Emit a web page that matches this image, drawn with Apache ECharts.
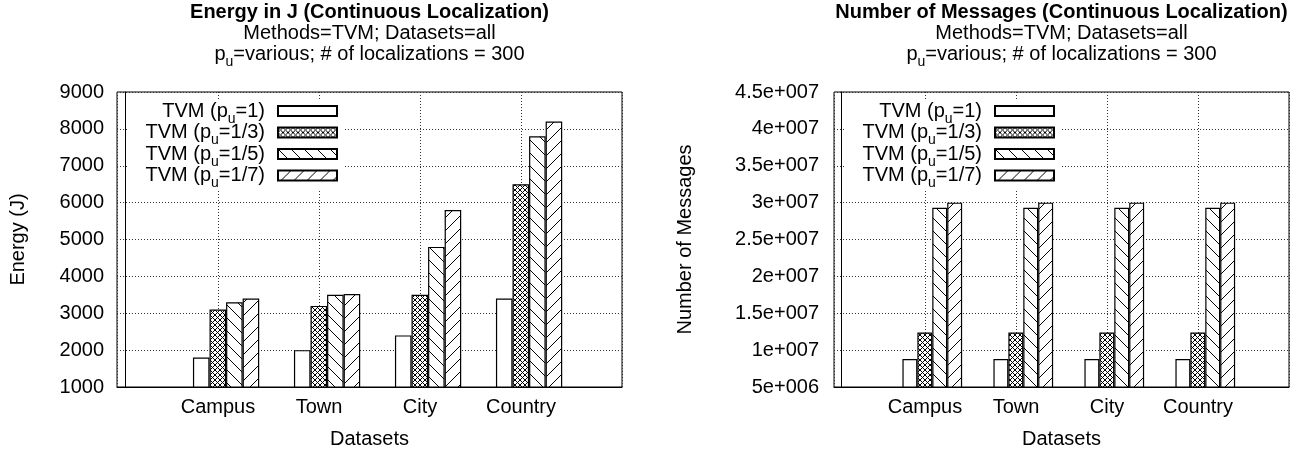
<!DOCTYPE html>
<html><head><meta charset="utf-8">
<script src="https://cdn.jsdelivr.net/npm/echarts@6/dist/echarts.min.js"></script>
<style>html,body{margin:0;padding:0;background:#fff}#c{width:1307px;height:454px}</style>
</head><body><div id="c"></div>
<script>
// ---- data ----
const categories = ['Campus', 'Town', 'City', 'Country'];
const puLabels = ['1', '1/3', '1/5', '1/7'];
const energyPu1 = [1800, 2000, 2400, 3400];
const energyPu3 = [3100, 3200, 3500, 6500];
const energyPu5 = [3300, 3500, 4800, 7800];
const energyPu7 = [3400, 3520, 5800, 8200];
const msgPu1 = [8.8e6, 8.8e6, 8.8e6, 8.8e6];
const msgPu3 = [1.24e7, 1.24e7, 1.24e7, 1.24e7];
const msgPu5 = [2.93e7, 2.93e7, 2.93e7, 2.93e7];
const msgPu7 = [3.0e7, 3.0e7, 3.0e7, 3.0e7];

// ---- style ----
const FONT = 'Liberation Sans, Arial, sans-serif';
const BAR_SHIFT = 0.08;
const names = puLabels.map(p => 'TVM (pu=' + p + ')');

function makePattern(kind) {
  if (kind === 'white') return '#ffffff';
  const N = kind === 'cross' ? 5 : 13;
  const c = document.createElement('canvas');
  c.width = N; c.height = N;
  const g = c.getContext('2d');
  g.fillStyle = '#fff'; g.fillRect(0, 0, N, N);
  g.strokeStyle = '#000'; g.lineWidth = 1;
  g.beginPath();
  for (const k of [-1, 0, 1]) {
    if (kind === 'back' || kind === 'cross') { g.moveTo(k * N - 1, -1); g.lineTo(k * N + N + 1, N + 1); }
    if (kind === 'fwd' || kind === 'cross') { g.moveTo(k * N - 1, N + 1); g.lineTo(k * N + N + 1, -1); }
  }
  g.stroke();
  return { image: c, repeat: 'repeat' };
}
const patterns = [makePattern('white'), makePattern('cross'), makePattern('back'), makePattern('fwd')];

function gnuFmt(v) {
  const e = Math.floor(Math.log10(v) + 1e-9);
  const m = Math.round(v / Math.pow(10, e) * 100) / 100;
  return m + 'e+' + String(e).padStart(3, '0');
}

function richSub(lh) {
  return {
    t: { fontFamily: FONT, fontSize: 20, color: '#000', lineHeight: lh, verticalAlign: 'middle' },
    s: { fontFamily: FONT, fontSize: 14, color: '#000', lineHeight: 4, verticalAlign: 'top', padding: [11, 0, 0, 0] },
    g: { width: 8 }
  };
}

function legendFor(right) {
  return {
    data: names, orient: 'vertical', align: 'right', right: right, top: 99,
    itemWidth: 59, itemHeight: 10, itemGap: -3.5, padding: [2, 7, 0, 18],
    backgroundColor: '#fff', icon: 'rect', selectedMode: false,
    textStyle: { fontFamily: FONT, fontSize: 20, color: '#000', lineHeight: 20, rich: richSub(20) },
    formatter: n => '{t|TVM (p}{s|u}{t|=' + n.split('=')[1] + '}{g|}'
  };
}

function titleFor(text, cx) {
  return {
    text: text,
    subtext: 'Methods=TVM; Datasets=all\n{t|p}{s|u}{t|=various; # of localizations = 300}',
    left: cx, top: 2, textAlign: 'center', itemGap: 0, padding: 0,
    textStyle: { fontFamily: FONT, fontSize: 20, fontWeight: 'bold', color: '#000', lineHeight: 21 },
    subtextStyle: { fontFamily: FONT, fontSize: 20, color: '#000', lineHeight: 21, rich: richSub(21) }
  };
}

const dotted = { show: true, lineStyle: { color: '#333', width: 1, type: [1, 2] } };

function catAxis(gi) {
  return {
    type: 'category', gridIndex: gi, data: [''].concat(categories, ['']), boundaryGap: false,
    name: 'Datasets', nameLocation: 'middle', nameGap: 42,
    nameTextStyle: { fontFamily: FONT, fontSize: 20, color: '#000' },
    axisLine: { lineStyle: { color: '#000', width: 1 } }, axisTick: { show: false },
    axisLabel: { interval: 0, margin: 10, fontFamily: FONT, fontSize: 20, color: '#000' },
    splitLine: Object.assign({ interval: 0 }, dotted)
  };
}
function barAxis(gi) {
  return { type: 'value', gridIndex: gi, min: -BAR_SHIFT, max: categories.length + 1 - BAR_SHIFT, show: false };
}
function valAxis(gi, min, max, interval, name, nameGap, margin, fmt) {
  return {
    type: 'value', gridIndex: gi, min, max, interval,
    name, nameLocation: 'middle', nameGap,
    nameTextStyle: { fontFamily: FONT, fontSize: 20, color: '#000' },
    axisLine: { show: true, lineStyle: { color: '#000', width: 1 } }, axisTick: { show: false },
    axisLabel: { margin, fontFamily: FONT, fontSize: 20, color: '#000', formatter: fmt },
    splitLine: dotted
  };
}

function barSeries(i, data, xIdx, yIdx) {
  return {
    type: 'bar', name: names[i], xAxisIndex: xIdx, yAxisIndex: yIdx,
    data: data.map((v, k) => [k + 1, v]),
    barWidth: '16.4%', barGap: '0%',
    itemStyle: { color: patterns[i], borderColor: '#000', borderWidth: 1.2 },
    emphasis: { disabled: true }
  };
}

const energy = [energyPu1, energyPu3, energyPu5, energyPu7];
const msgs = [msgPu1, msgPu3, msgPu5, msgPu7];

const chart = echarts.init(document.getElementById('c'), null, { renderer: 'canvas' });
chart.setOption({
  animation: false,
  backgroundColor: '#fff',
  title: [titleFor('Energy in J (Continuous Localization)', 369.5),
          titleFor('Number of Messages (Continuous Localization)', 1061.5)],
  legend: [legendFor(962), legendFor(245)],
  grid: [
    { left: 117, top: 92, width: 505, height: 299, show: true, borderColor: '#000', borderWidth: 1, backgroundColor: 'transparent' },
    { left: 834, top: 92, width: 455, height: 299, show: true, borderColor: '#000', borderWidth: 1, backgroundColor: 'transparent' }
  ],
  xAxis: [catAxis(0), catAxis(1), barAxis(0), barAxis(1)],
  yAxis: [
    valAxis(0, 1000, 9000, 1000, 'Energy (J)', 89, 13, v => String(v)),
    valAxis(1, 5e6, 4.5e7, 5e6, 'Number of Messages', 139, 15, gnuFmt)
  ],
  series: energy.map((d, i) => barSeries(i, d, 2, 0)).concat(msgs.map((d, i) => barSeries(i, d, 3, 1)))
});
</script></body></html>
